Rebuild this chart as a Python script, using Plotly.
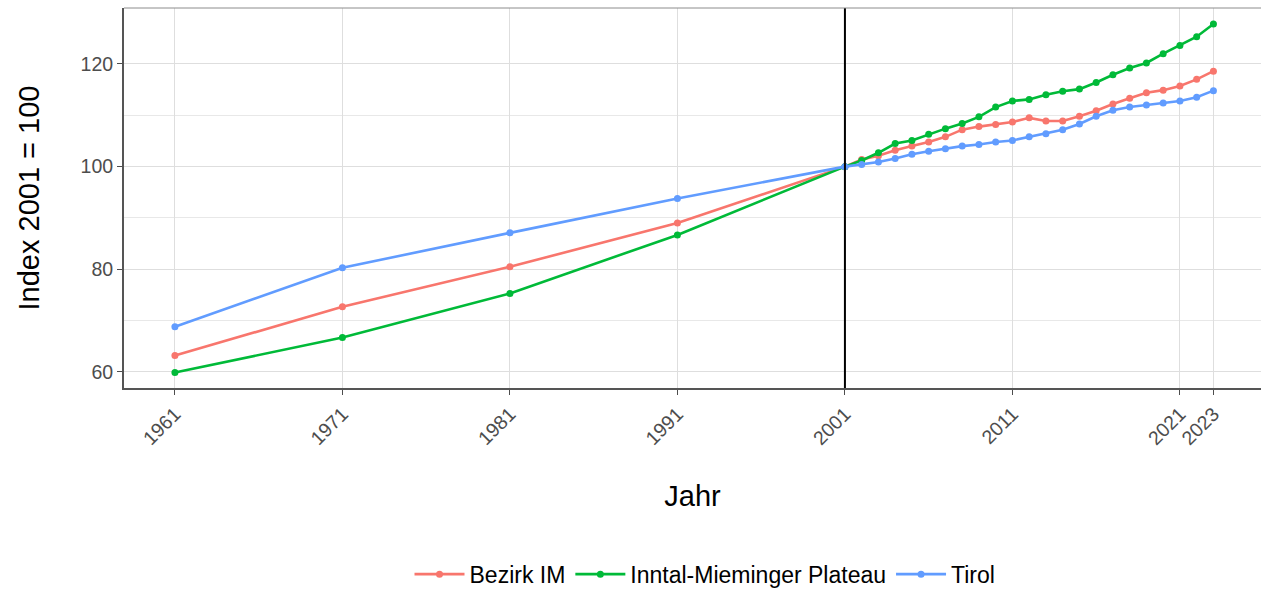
import plotly.graph_objects as go

years = [1961, 1971, 1981, 1991] + list(range(2001, 2024))

bezirk_im = [63.2, 72.7, 80.5, 89.0,
             100.0, 101.4, 102.1, 103.2, 104.0, 104.8, 105.8, 107.2, 107.8, 108.2, 108.7,
             109.5, 108.9, 108.9, 109.8, 110.9, 112.2, 113.3, 114.4, 114.9, 115.7, 117.0, 118.6]
inntal = [59.9, 66.7, 75.3, 86.7,
          100.0, 101.2, 102.7, 104.5, 105.1, 106.3, 107.4, 108.4, 109.7, 111.6, 112.8,
          113.1, 114.0, 114.7, 115.1, 116.4, 117.9, 119.2, 120.2, 122.0, 123.6, 125.3, 127.8]
tirol = [68.8, 80.3, 87.1, 93.8,
         100.0, 100.4, 100.9, 101.6, 102.4, 103.0, 103.5, 104.0, 104.3, 104.8, 105.1,
         105.8, 106.4, 107.2, 108.3, 109.8, 111.0, 111.6, 112.0, 112.4, 112.8, 113.5, 114.8]

series = [("Bezirk IM", bezirk_im, "#F8766D"),
          ("Inntal-Mieminger Plateau", inntal, "#00BA38"),
          ("Tirol", tirol, "#619CFF")]

x_ticks = [1961, 1971, 1981, 1991, 2001, 2011, 2021, 2023]

fig = go.Figure()
for name, vals, col in series:
    fig.add_trace(go.Scatter(x=years, y=vals, name=name, mode="lines+markers",
                             line=dict(color=col, width=2.6),
                             marker=dict(color=col, size=7)))

# reference line at 2001
fig.add_vline(x=2001, line=dict(color="black", width=2))
# top panel border
fig.add_shape(type="line", xref="paper", yref="paper", x0=0, x1=1, y0=1, y1=1,
              line=dict(color="#8c8c8c", width=1))

fig.update_layout(
    width=1261, height=593,
    margin=dict(l=124, r=0, t=8, b=205, autoexpand=False),
    plot_bgcolor="white", paper_bgcolor="white",
    font=dict(family="Liberation Sans, Arial, sans-serif", color="black"),
    showlegend=True,
    legend=dict(orientation="h", x=0.511, xanchor="center", y=-0.49, yanchor="middle",
                font=dict(size=23, color="black"), itemwidth=50),
    xaxis=dict(range=[1957.96, 2025.84], tickvals=x_ticks, tickangle=-45,
               tickfont=dict(size=19.5, color="#4d4d4d"),
               ticks="outside", ticklen=5, tickcolor="#4d4d4d",
               showgrid=True, gridcolor="#dedede", gridwidth=1,
               showline=True, linecolor="#555555", linewidth=2,
               zeroline=False, automargin=False,
               title=dict(text="Jahr", font=dict(size=29, color="black"), standoff=38)),
    yaxis=dict(range=[56.88, 130.9], tickvals=[60, 80, 100, 120],
               tickfont=dict(size=19.5, color="#4d4d4d"),
               ticks="outside", ticklen=5, tickcolor="#4d4d4d",
               showgrid=True, gridcolor="#dedede", gridwidth=1,
               minor=dict(tickvals=[70, 90, 110], showgrid=True, gridcolor="#e8e8e8", ticks=""),
               showline=True, linecolor="#555555", linewidth=2,
               zeroline=False, automargin=False,
               title=dict(text="Index 2001 = 100", font=dict(size=29, color="black"), standoff=32)),
)

fig.write_html("out.html", config={"displayModeBar": False},
               post_script="document.body.style.margin='0';document.body.style.overflow='hidden';")
